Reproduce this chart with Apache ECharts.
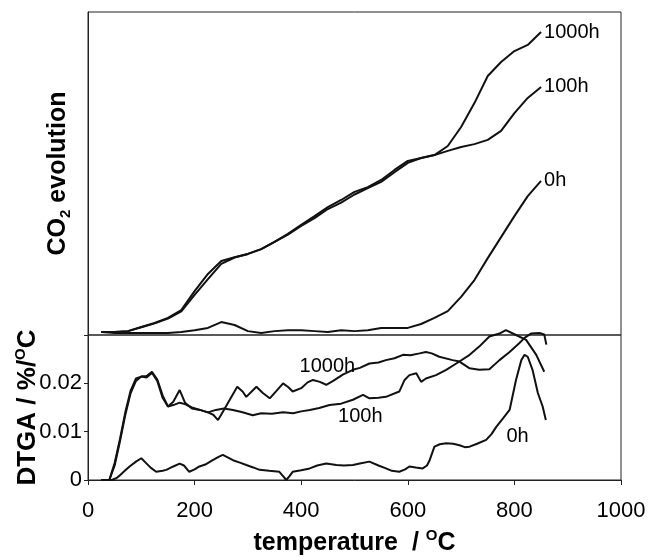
<!DOCTYPE html>
<html><head><meta charset="utf-8">
<script src="https://cdn.jsdelivr.net/npm/echarts@6/dist/echarts.min.js"></script>
<style>html,body{margin:0;padding:0;background:#fff}#c{width:652px;height:557px}</style>
</head><body><div id="c"></div>
<script>
// ---- Top panel: CO2 evolution (arbitrary units) ----
const co2Temp = [25,50,75,100,125,150,175,200,225,250,275,300,325,350,375,400,425,450,475,500,525,550,575,600,625,650,675,700,725,750,775,800,825,850];
const co2_1000h = [0.9,0.9,1.2,2.5,3.7,5.3,7.7,13.6,18.9,22.9,24.1,25.1,26.6,28.8,31.3,34.1,36.8,39.6,41.8,44.3,45.8,48.0,51.1,53.9,54.8,55.7,58.5,64.4,71.8,80.2,84.5,87.9,89.8,93.8];
const co2_100h  = [0.9,0.9,1.2,2.4,3.6,5.1,7.3,12.4,17.3,22.0,24.0,25.1,26.6,28.8,31.1,33.8,36.2,39.0,41.0,43.5,45.5,47.4,50.4,53.3,54.8,55.7,57.0,58.2,59.1,60.4,63.2,68.7,73.4,76.8];
const co2_0h    = [0.9,0.6,0.6,0.6,0.6,0.6,0.9,1.5,2.2,4.0,3.1,1.2,0.6,1.2,1.5,1.5,1.2,0.9,1.5,1.2,1.5,2.2,2.2,2.2,3.4,5.3,7.4,11.8,17.0,23.8,30.3,36.8,43.0,47.7];

// ---- Bottom panel: DTGA (%/°C) ----
const dtgaTemp1000h = [25,40,50,60,70,80,90,100,110,120,130,140,150,160,172,182,195,210,225,235,244,255,266,280,290,297,307,316,328,341,354,366,376,384,400,412,422,435,447,460,478,497,510,528,545,559,575,591,605,622,634,645,659,684,697,716,734,753,772,791,809,819,831,847,856,860];
const dtga1000h     = [0,0,0.003,0.008,0.0135,0.018,0.0205,0.0214,0.0212,0.0222,0.0205,0.017,0.0152,0.0162,0.0186,0.016,0.0148,0.0145,0.014,0.0135,0.0124,0.0145,0.0166,0.0193,0.0183,0.0172,0.0183,0.0193,0.018,0.0169,0.0185,0.02,0.0192,0.0183,0.019,0.0202,0.0207,0.0203,0.0197,0.0205,0.0218,0.0228,0.0232,0.0241,0.0243,0.0248,0.0252,0.0259,0.0258,0.0262,0.0265,0.0262,0.0255,0.0248,0.0245,0.0231,0.0228,0.0229,0.0248,0.0265,0.0283,0.0294,0.0303,0.0304,0.0301,0.028];
const dtgaTemp100h  = [25,40,50,60,70,80,90,100,110,120,130,140,150,160,172,182,195,210,225,240,255,272,290,309,325,345,366,385,400,416,434,453,475,497,516,528,545,559,584,594,603,616,625,634,653,672,691,716,734,753,772,784,803,822,841,856];
const dtga100h      = [0,0,0.0035,0.0085,0.014,0.0185,0.021,0.0214,0.0215,0.0224,0.0208,0.0175,0.0152,0.0155,0.016,0.0157,0.015,0.0145,0.014,0.0145,0.0148,0.0145,0.014,0.0134,0.0138,0.0137,0.014,0.0138,0.0142,0.0145,0.0149,0.0155,0.0158,0.0166,0.0176,0.0169,0.017,0.0172,0.0183,0.0207,0.0217,0.0221,0.0203,0.021,0.0217,0.0228,0.0241,0.0259,0.0276,0.0297,0.0303,0.031,0.03,0.029,0.0259,0.0224];
const dtgaTemp0h    = [25,45,55,60,70,78,90,100,109,118,128,140,147,160,172,180,190,200,209,220,234,245,253,262,272,285,297,310,322,340,359,366,372,378,384,400,416,430,447,466,480,497,510,528,545,559,570,584,595,603,615,628,636,641,650,660,672,685,697,707,716,730,747,757,766,779,791,803,813,819,825,834,844,853,859];
const dtga0h        = [0,0,0.0005,0.001,0.002,0.0028,0.0038,0.0045,0.0035,0.0025,0.0017,0.0019,0.0021,0.0028,0.0034,0.003,0.0017,0.0022,0.0028,0.0032,0.0041,0.0048,0.0052,0.0047,0.0041,0.0036,0.0031,0.0026,0.0021,0.0019,0.0017,0.0008,0,0.0008,0.0017,0.002,0.0024,0.003,0.0034,0.0031,0.003,0.0031,0.0034,0.0038,0.003,0.0024,0.0019,0.0017,0.0022,0.0028,0.0026,0.0024,0.003,0.0041,0.0069,0.0074,0.0076,0.0075,0.0072,0.0068,0.0069,0.0075,0.0083,0.0095,0.011,0.0128,0.0145,0.0207,0.0248,0.0259,0.0255,0.0228,0.018,0.0152,0.0124];

// curve labels in the lower panel: [temperature, value, text]
const dtgaLabels = [[449,0.0234,'1000h'],[511,0.0132,'100h'],[806,0.0089,'0h']];
const xTicks = [0,200,400,600,800,1000];

const FONT = '"Liberation Sans", Arial, Helvetica, sans-serif';
const pair = (xs, ys) => xs.map((x,i)=>[x, ys[i]]);
const lineStyle = {color:'#111', width:2};

function topSeries(name, ys){
  return {type:'line', name, xAxisIndex:0, yAxisIndex:0, data:pair(co2Temp, ys),
    showSymbol:false, symbol:'none', lineStyle, silent:true,
    endLabel:{show:true, formatter:name, color:'#000', fontSize:20, fontFamily:FONT, distance:3}};
}
function botSeries(name, xs, ys, lbl){
  return {type:'line', name, xAxisIndex:1, yAxisIndex:1, data:pair(xs, ys),
    showSymbol:false, symbol:'none', lineStyle, silent:true, clip:false,
    markPoint:{symbol:'circle', symbolSize:1, itemStyle:{color:'transparent'}, silent:true,
      label:{show:true, position:'inside', color:'#000', fontSize:20, fontFamily:FONT, formatter:lbl[2]},
      data:[{coord:[lbl[0], lbl[1]]}]}};
}

const chart = echarts.init(document.getElementById('c'), null, {renderer:'canvas'});
chart.setOption({
  animation:false,
  backgroundColor:'#fff',
  grid:[
    {left:88, right:31, top:12, height:323, show:true, borderColor:'#222', borderWidth:1},
    {left:88, right:31, top:335, height:145, show:true, borderColor:'#222', borderWidth:1}
  ],
  xAxis:[
    {type:'value', gridIndex:0, min:0, max:1000, interval:200, show:false},
    {type:'value', gridIndex:1, min:0, max:1000, interval:200,
     axisLine:{show:true, lineStyle:{color:'#222', width:1}},
     axisTick:{show:true, inside:false, length:5, lineStyle:{color:'#222'}},
     splitLine:{show:false},
     axisLabel:{color:'#000', fontSize:22, fontFamily:FONT, margin:20,
       formatter:v => xTicks.includes(v) ? String(v) : ''},
     name:'{a|temperature  / }{s|O}{a|C}', nameLocation:'middle', nameGap:48, nameMoveOverlap:false,
     nameTextStyle:{rich:{
       a:{fontSize:25, fontWeight:'bold', fontFamily:FONT, color:'#000', lineHeight:30},
       s:{fontSize:15, fontWeight:'bold', fontFamily:FONT, color:'#000', lineHeight:15, verticalAlign:'top'}}}}
  ],
  yAxis:[
    {type:'value', gridIndex:0, min:0, max:100,
     axisLine:{show:true, lineStyle:{color:'#222'}}, axisTick:{show:false}, axisLabel:{show:false}, splitLine:{show:false},
     name:'{a|CO}{b|2}{a| evolution}', nameLocation:'middle', nameRotate:90, nameGap:15, nameMoveOverlap:false,
     nameTextStyle:{rich:{
       a:{fontSize:25, fontWeight:'bold', fontFamily:FONT, color:'#000', lineHeight:30},
       b:{fontSize:15, fontWeight:'bold', fontFamily:FONT, color:'#000', lineHeight:15, verticalAlign:'bottom'}}}},
    {type:'value', gridIndex:1, min:0, max:0.03, interval:0.01,
     axisLine:{show:true, lineStyle:{color:'#222'}},
     axisTick:{show:true, inside:false, length:4, lineStyle:{color:'#222'}},
     splitLine:{show:false},
     axisLabel:{color:'#000', fontSize:22, fontFamily:FONT, margin:6,
       formatter:v => v > 0.025 ? '' : (v === 0 ? '0' : v.toFixed(2))},
     name:'{a|DTGA / %/}{s|O}{a|C}', nameLocation:'middle', nameRotate:90, nameGap:45, nameMoveOverlap:false,
     nameTextStyle:{rich:{
       a:{fontSize:26, fontWeight:'bold', fontFamily:FONT, color:'#000', lineHeight:30},
       s:{fontSize:15, fontWeight:'bold', fontFamily:FONT, color:'#000', lineHeight:15, verticalAlign:'top'}}}}
  ],
  series:[
    topSeries('1000h', co2_1000h),
    topSeries('100h', co2_100h),
    topSeries('0h', co2_0h),
    botSeries('1000h', dtgaTemp1000h, dtga1000h, dtgaLabels[0]),
    botSeries('100h', dtgaTemp100h, dtga100h, dtgaLabels[1]),
    botSeries('0h', dtgaTemp0h, dtga0h, dtgaLabels[2])
  ]
});
</script>
</body></html>
